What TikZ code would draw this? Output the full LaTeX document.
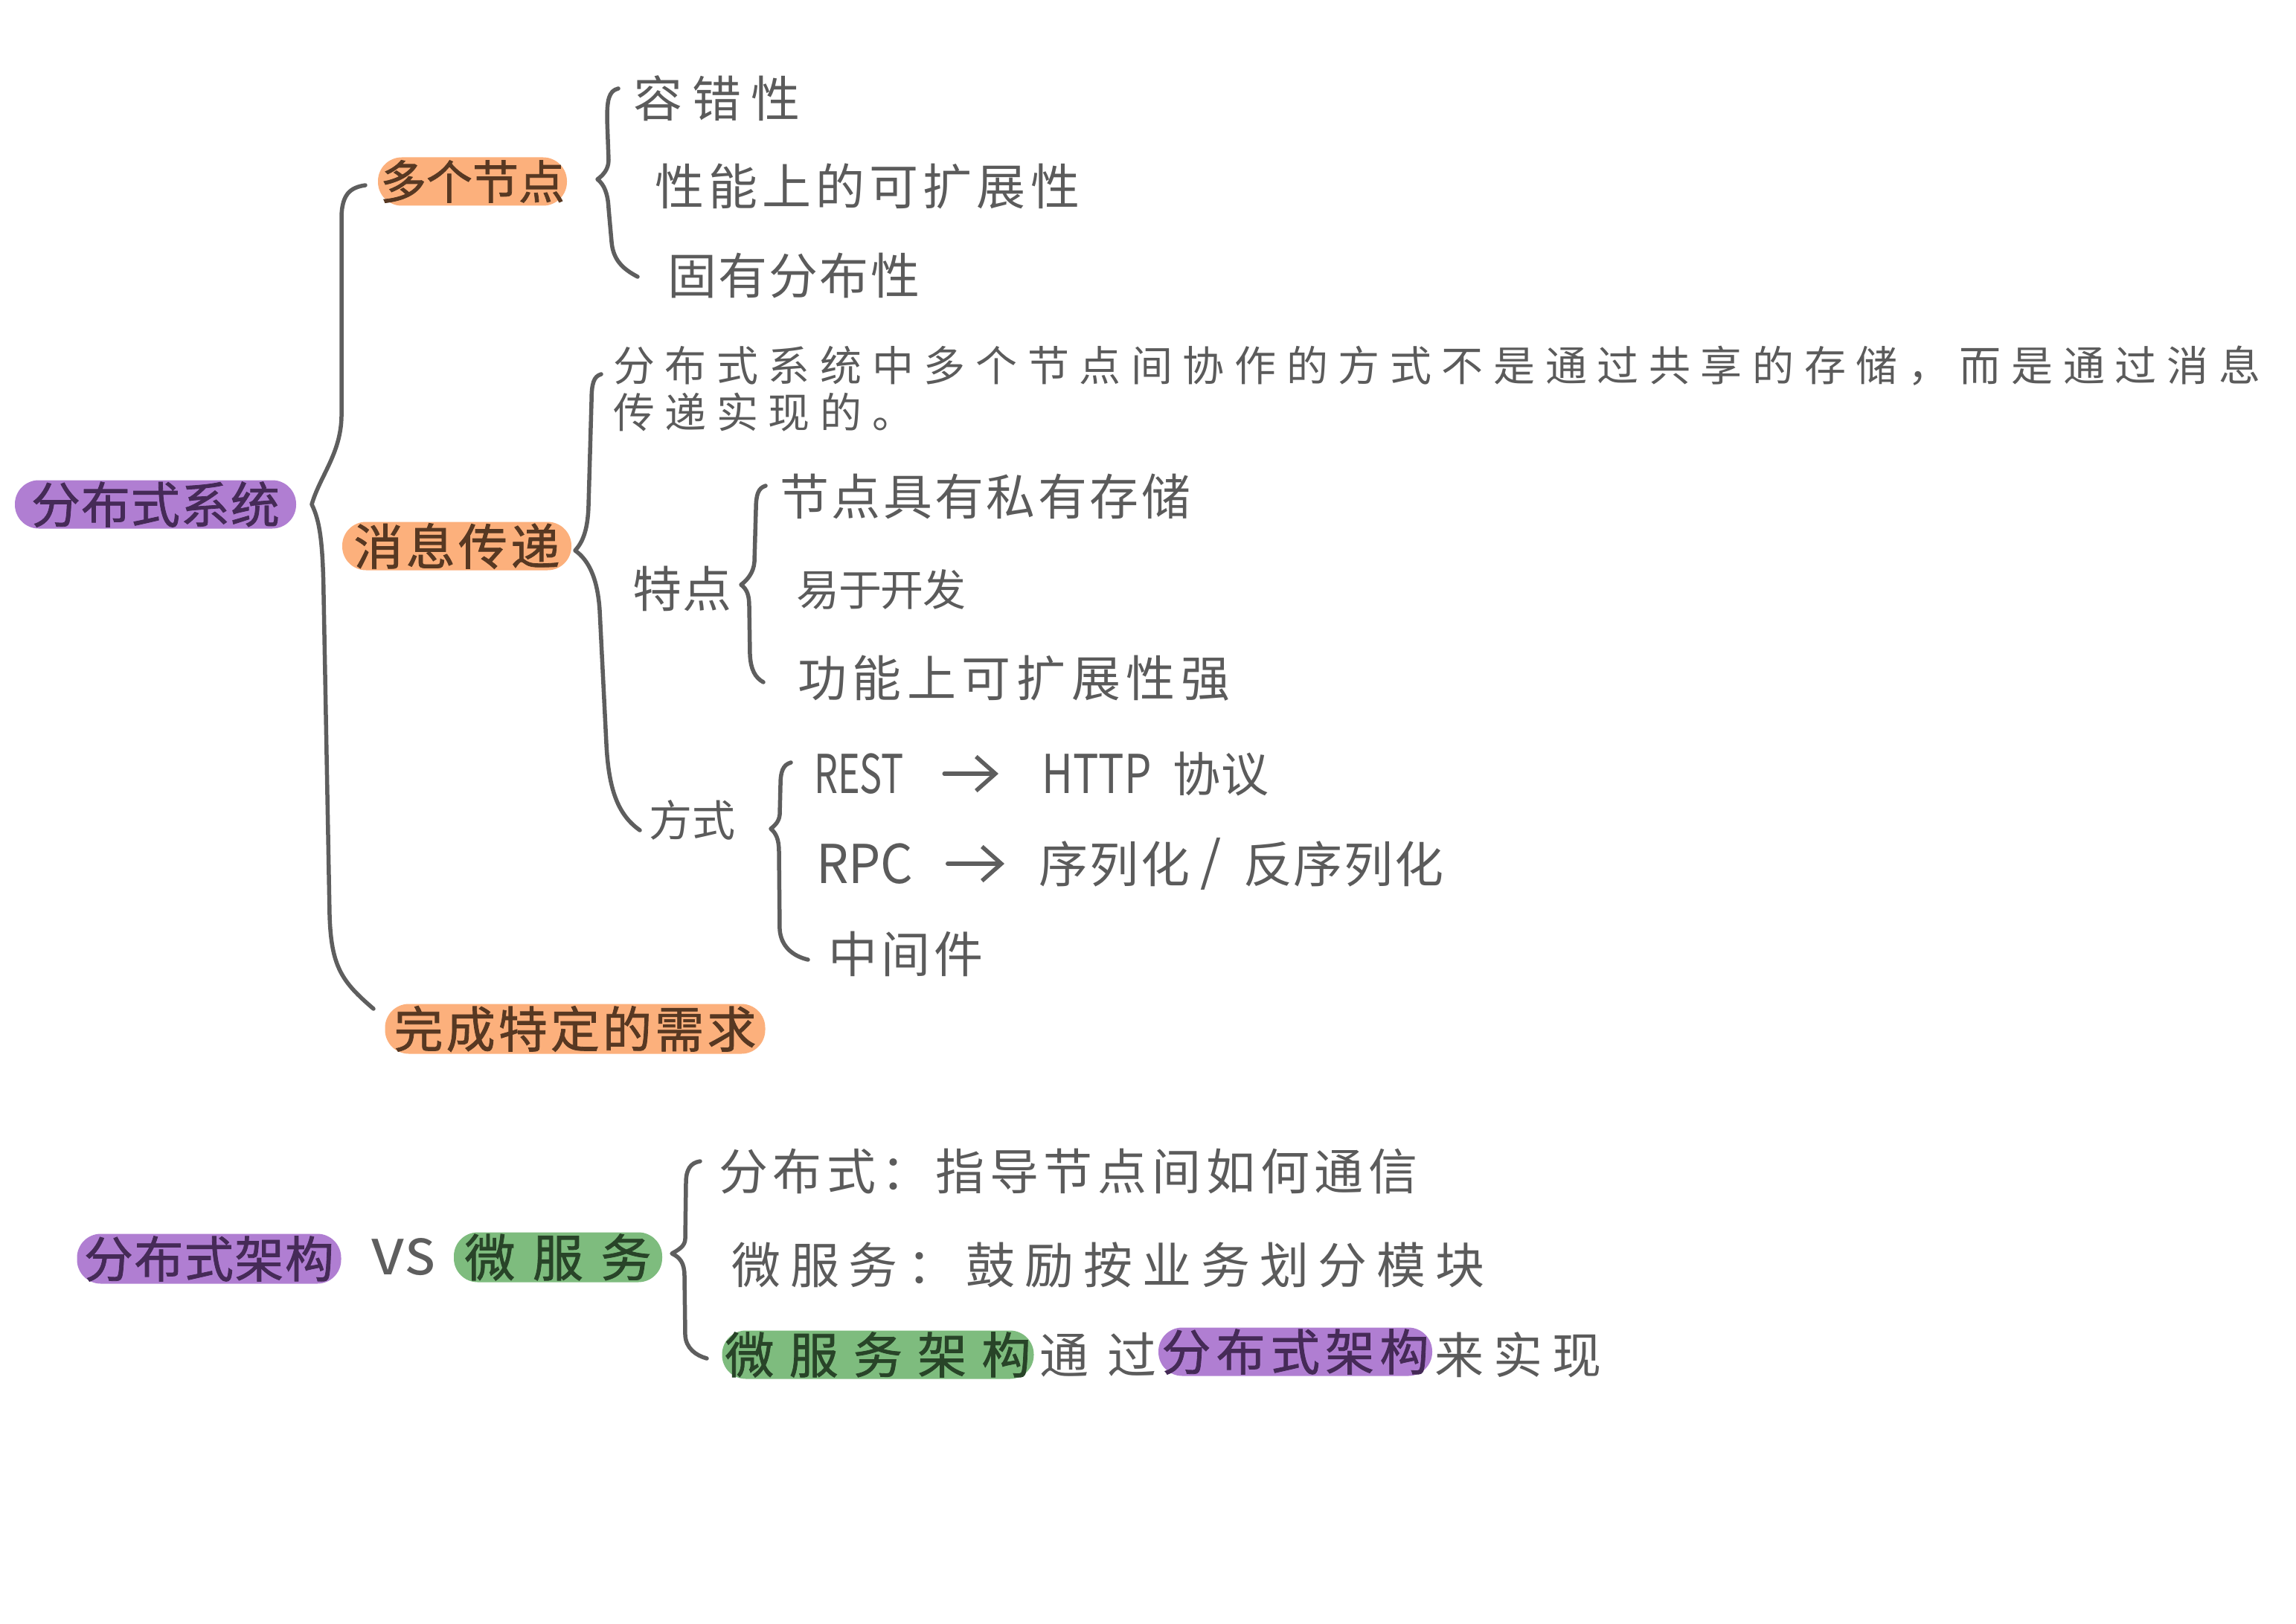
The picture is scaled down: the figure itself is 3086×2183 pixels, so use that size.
\documentclass[tikz,border=0pt]{standalone}
\usepackage{fontspec}
\setmainfont{Noto Sans CJK SC}
\usetikzlibrary{arrows.meta}
\newcommand\hwf[2]{\fontsize{#1}{#1}\selectfont\addfontfeature{LetterSpace=#2}}
\newcommand\hwp[2]{\fontsize{#1}{#1}\selectfont\addfontfeature{LetterSpace=#2,FakeBold=1.2}}
\definecolor{lineC}{HTML}{5E5E5E}
\definecolor{txtC}{HTML}{5B5B5B}
\definecolor{purpleC}{HTML}{B07ED2}
\definecolor{orangeC}{HTML}{FCB07C}
\definecolor{greenC}{HTML}{7EBC7E}
\definecolor{purpleT}{HTML}{452A57}
\definecolor{orangeT}{HTML}{573822}
\definecolor{greenT}{HTML}{284428}
\tikzset{
  br/.style={draw=lineC, line width=5.5pt, line cap=round, line join=round},
  pill/.style={rounded corners=32pt, inner sep=0pt, minimum height=65pt},
  txt/.style={anchor=west, inner sep=0pt, text=txtC},
  arr/.style={draw=lineC, line width=5.5pt, line cap=round, -{Straight Barb[length=26pt,width=46pt]}},
}
\begin{document}
\begin{tikzpicture}[x=1pt,y=-1pt]
\useasboundingbox (0,0) rectangle (3086,2183);
\fill[white] (0,0) rectangle (3086,2183);

% ---- pills (top tree)
\node[pill, fill=purpleC, minimum width=378pt, text=purpleT] (sys) at (209,678) {\hwp{66}{1.5}分布式系统};
\node[pill, fill=orangeC, minimum width=254pt, text=orangeT] (multi) at (635,244) {\hwp{62}{0}多个节点};
\node[pill, fill=orangeC, minimum width=308pt, text=orangeT] (msg) at (614,734) {\hwp{66}{6.5}消息传递};
\node[pill, fill=orangeC, minimum width=511pt, minimum height=67pt, text=orangeT] (done) at (773,1383) {\hwp{66}{6.3}完成特定的需求};

% ---- texts
\node[txt] (ft) at (851,132) {\hwf{66}{20}容错性};
\node[txt] (perf) at (880,250) {\hwf{66}{9.3}性能上的可扩展性};
\node[txt] (inh) at (897,370) {\hwf{66}{3.4}固有分布性};
\node[txt, align=left, font={\fontsize{56}{63}\selectfont\addfontfeature{LetterSpace=24.3}}] (para) at (824,523)
  {分布式系统中多个节点间协作的方式不是通过共享的存储，而是通过消息\\传递实现的。};
\node[txt] (feat) at (850,791) {\hwf{66}{1.5}特点};
\node[txt] (f1) at (1048,667) {\hwf{66}{5.2}节点具有私有存储};
\node[txt] (f2) at (1070,792) {\hwf{58}{-2}易于开发};
\node[txt] (f3) at (1072,912) {\hwf{66}{11.5}功能上可扩展性强};
\node[txt] (way) at (872,1102) {\hwf{58}{0}方式};
\node[txt] (rest) at (1094,1040) {\scalebox{0.7}[1]{\hwf{72}{0}REST}};
\node[txt] (http) at (1400,1040) {\scalebox{0.8}[1]{\hwf{72}{0}HTTP}};
\node[txt] (proto) at (1576,1040) {\hwf{64}{2}协议};
\node[txt] (rpc) at (1097,1161) {\scalebox{0.95}[1]{\hwf{72}{0}RPC}};
\node[txt] (ser) at (1396,1161) {\hwf{66}{4}序列化};
\node[text=txtC, inner sep=0pt] (slash) at (1628,1161) {\hwf{72}{0}/};
\node[txt] (deser) at (1671,1161) {\hwf{66}{2.5}反序列化};
\node[txt] (mid) at (1113,1282) {\hwf{66}{7.6}中间件};

\draw[arr] ([xshift=54pt]rest.east) -- ([xshift=-58pt]http.west);
\draw[arr] ([xshift=46pt]rpc.east) -- ([xshift=-46pt]ser.west);

% ---- brackets (top tree)
\coordinate (b1tip) at (419,678);
\draw[br] (491,249) .. controls (470,252) and (460,262) .. (459,290) -- (459,560)
  .. controls (458,610) and (430,640) .. (b1tip)
  .. controls (430,700) and (434,730) .. (435,800) -- (443,1230)
  .. controls (445,1300) and (460,1320) .. (502,1356);
\coordinate (b2tip) at (803,241);
\draw[br] (831,119) .. controls (818,122) and (816,135) .. (816,160) -- (818,215)
  .. controls (818,228) and (810,236) .. (b2tip)
  .. controls (812,248) and (817,260) .. (818,280) -- (822,325)
  .. controls (824,350) and (838,362) .. (857,372);
\coordinate (b3tip) at (773,740);
\draw[br] (808,503) .. controls (798,506) and (795,515) .. (795,540) -- (791,680)
  .. controls (790,715) and (782,730) .. (b3tip)
  .. controls (790,752) and (803,775) .. (806,820) -- (815,1000)
  .. controls (818,1060) and (830,1095) .. (860,1116);
\coordinate (b4tip) at (996,786);
\draw[br] (1029,653) .. controls (1019,656) and (1016,665) .. (1016,685) -- (1014,755)
  .. controls (1013,770) and (1004,780) .. (b4tip)
  .. controls (1004,792) and (1007,800) .. (1007,815) -- (1008,880)
  .. controls (1009,900) and (1015,911) .. (1026,917);
\coordinate (b5tip) at (1036,1114);
\draw[br] (1063,1025) .. controls (1052,1028) and (1049,1038) .. (1049,1055) -- (1048,1095)
  .. controls (1047,1105) and (1041,1110) .. (b5tip)
  .. controls (1043,1120) and (1047,1128) .. (1047,1145) -- (1048,1250)
  .. controls (1050,1272) and (1065,1285) .. (1086,1290);

% ---- bottom group
\node[pill, fill=purpleC, minimum width=355pt, minimum height=67pt, text=purpleT] (arch1) at (281,1692) {\hwp{66}{2.3}分布式架构};
\node[txt, text=lineC] (vs) at (498,1690) {\hwf{88}{0}vs};
\node[pill, fill=greenC, minimum width=280pt, minimum height=67pt, text=greenT] (micro1) at (750,1690) {\hwp{68}{34.5}微服务};
\node[txt] (c1) at (966,1574) {\hwf{66}{10.3}分布式：指导节点间如何通信};
\node[txt] (c2) at (983,1700) {\hwf{66}{19.5}微服务：鼓励按业务划分模块};
\node[pill, fill=greenC, minimum width=419pt, text=greenT] (micro2) at (1180,1821) {\hwp{66}{30.7}微服务架构};
\node[txt] (via) at (1397,1821) {\hwf{66}{38}通过};
\node[pill, fill=purpleC, minimum width=368pt, text=purpleT] (arch2) at (1741,1817) {\hwp{66}{11}分布式架构};
\node[txt] (impl) at (1928,1821) {\hwf{66}{20}来实现};

\coordinate (b6tip) at (903,1685);
\draw[br] (941,1561) .. controls (928,1563) and (922,1572) .. (922,1590) -- (921,1665)
  .. controls (921,1675) and (912,1680) .. (b6tip)
  .. controls (914,1690) and (920,1698) .. (920,1715) -- (921,1795)
  .. controls (922,1812) and (935,1822) .. (950,1826);
\end{tikzpicture}
\end{document}
